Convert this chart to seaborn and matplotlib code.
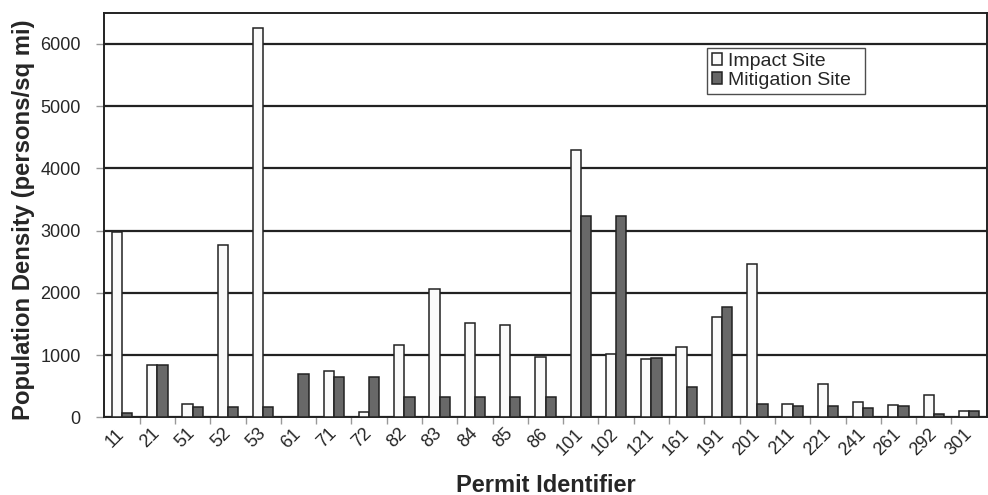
import pandas as pd
import matplotlib.pyplot as plt
from matplotlib.ticker import FixedLocator
import seaborn as sns
import numpy as np

# Data
permits = ['11', '21', '51', '52', '53', '61', '71', '72', '82', '83', '84', '85', '86',
           '101', '102', '121', '161', '191', '201', '211', '221', '241', '261', '292', '301']
impact = [2970, 845, 212, 2770, 6260, 12, 750, 80, 1160, 2065, 1510, 1482, 963,
          4290, 1020, 936, 1134, 1606, 2455, 212, 538, 250, 202, 351, 101]
mitigation = [70, 845, 160, 160, 160, 703, 649, 649, 324, 324, 324, 324, 324,
              3238, 3238, 952, 484, 1766, 217, 186, 186, 149, 176, 48, 101]
series = ['Impact Site', 'Mitigation Site']

df = pd.DataFrame({
    'Permit': permits * 2,
    'Density': impact + mitigation,
    'Site': [series[0]] * len(permits) + [series[1]] * len(permits),
})

sns.set_style('white')
plt.rcParams['font.family'] = ['Liberation Sans', 'DejaVu Sans']

fig = plt.figure(figsize=(9.88, 4.95), dpi=100)
ax = fig.add_axes([0.1056, 0.157, 0.8931, 0.8173])

sns.barplot(data=df, x='Permit', y='Density', hue='Site', order=permits,
            hue_order=series, palette=['#fafafa', '#686868'],
            edgecolor='#222222', linewidth=1.1, width=0.58, ax=ax, zorder=3)

ax.set_xlim(-0.5, len(permits) - 0.5)
ax.set_ylim(0, 6500)
ax.set_yticks(np.arange(0, 6001, 1000))
ax.yaxis.grid(True, color='#222222', linewidth=1.6, zorder=1)
ax.set_axisbelow(True)

for s in ax.spines.values():
    s.set_color('#222222')
    s.set_linewidth(1.4)
    s.set_visible(True)

# tick marks sit between categories, labels on category centres
ax.xaxis.set_minor_locator(FixedLocator(np.arange(0.5, len(permits) - 0.5, 1)))
ax.tick_params(axis='x', which='major', length=0, pad=10)
ax.tick_params(axis='x', which='minor', length=5, color='#999999', width=1, bottom=True)
ax.tick_params(axis='y', length=6, color='#999999', width=1, left=True, pad=11)
ax.set_xticks(range(len(permits)))
ax.set_xticklabels(permits, rotation=45, ha='right', va='center',
                   rotation_mode='anchor', fontsize=13)
for lab in ax.get_yticklabels():
    lab.set_fontsize(13)

ax.set_xlabel('Permit Identifier', fontsize=17, fontweight='bold')
ax.xaxis.set_label_coords(0.5, -0.14)
ax.set_ylabel('Population Density (persons/sq mi)', fontsize=17.2, fontweight='bold')
ax.yaxis.set_label_coords(-0.079, 0.488)

leg = ax.legend(loc='upper left', bbox_to_anchor=(0.6826, 0.9128, 0.18, 0.0),
                mode='expand', frameon=True,
                fancybox=False, edgecolor='#222222', fontsize=14,
                handlelength=0.55, handleheight=0.55, handletextpad=0.3,
                borderpad=0.25, labelspacing=0.1, borderaxespad=0)
leg.get_frame().set_linewidth(1.0)
leg.set_title(None)

plt.savefig('out.png', dpi=100)
